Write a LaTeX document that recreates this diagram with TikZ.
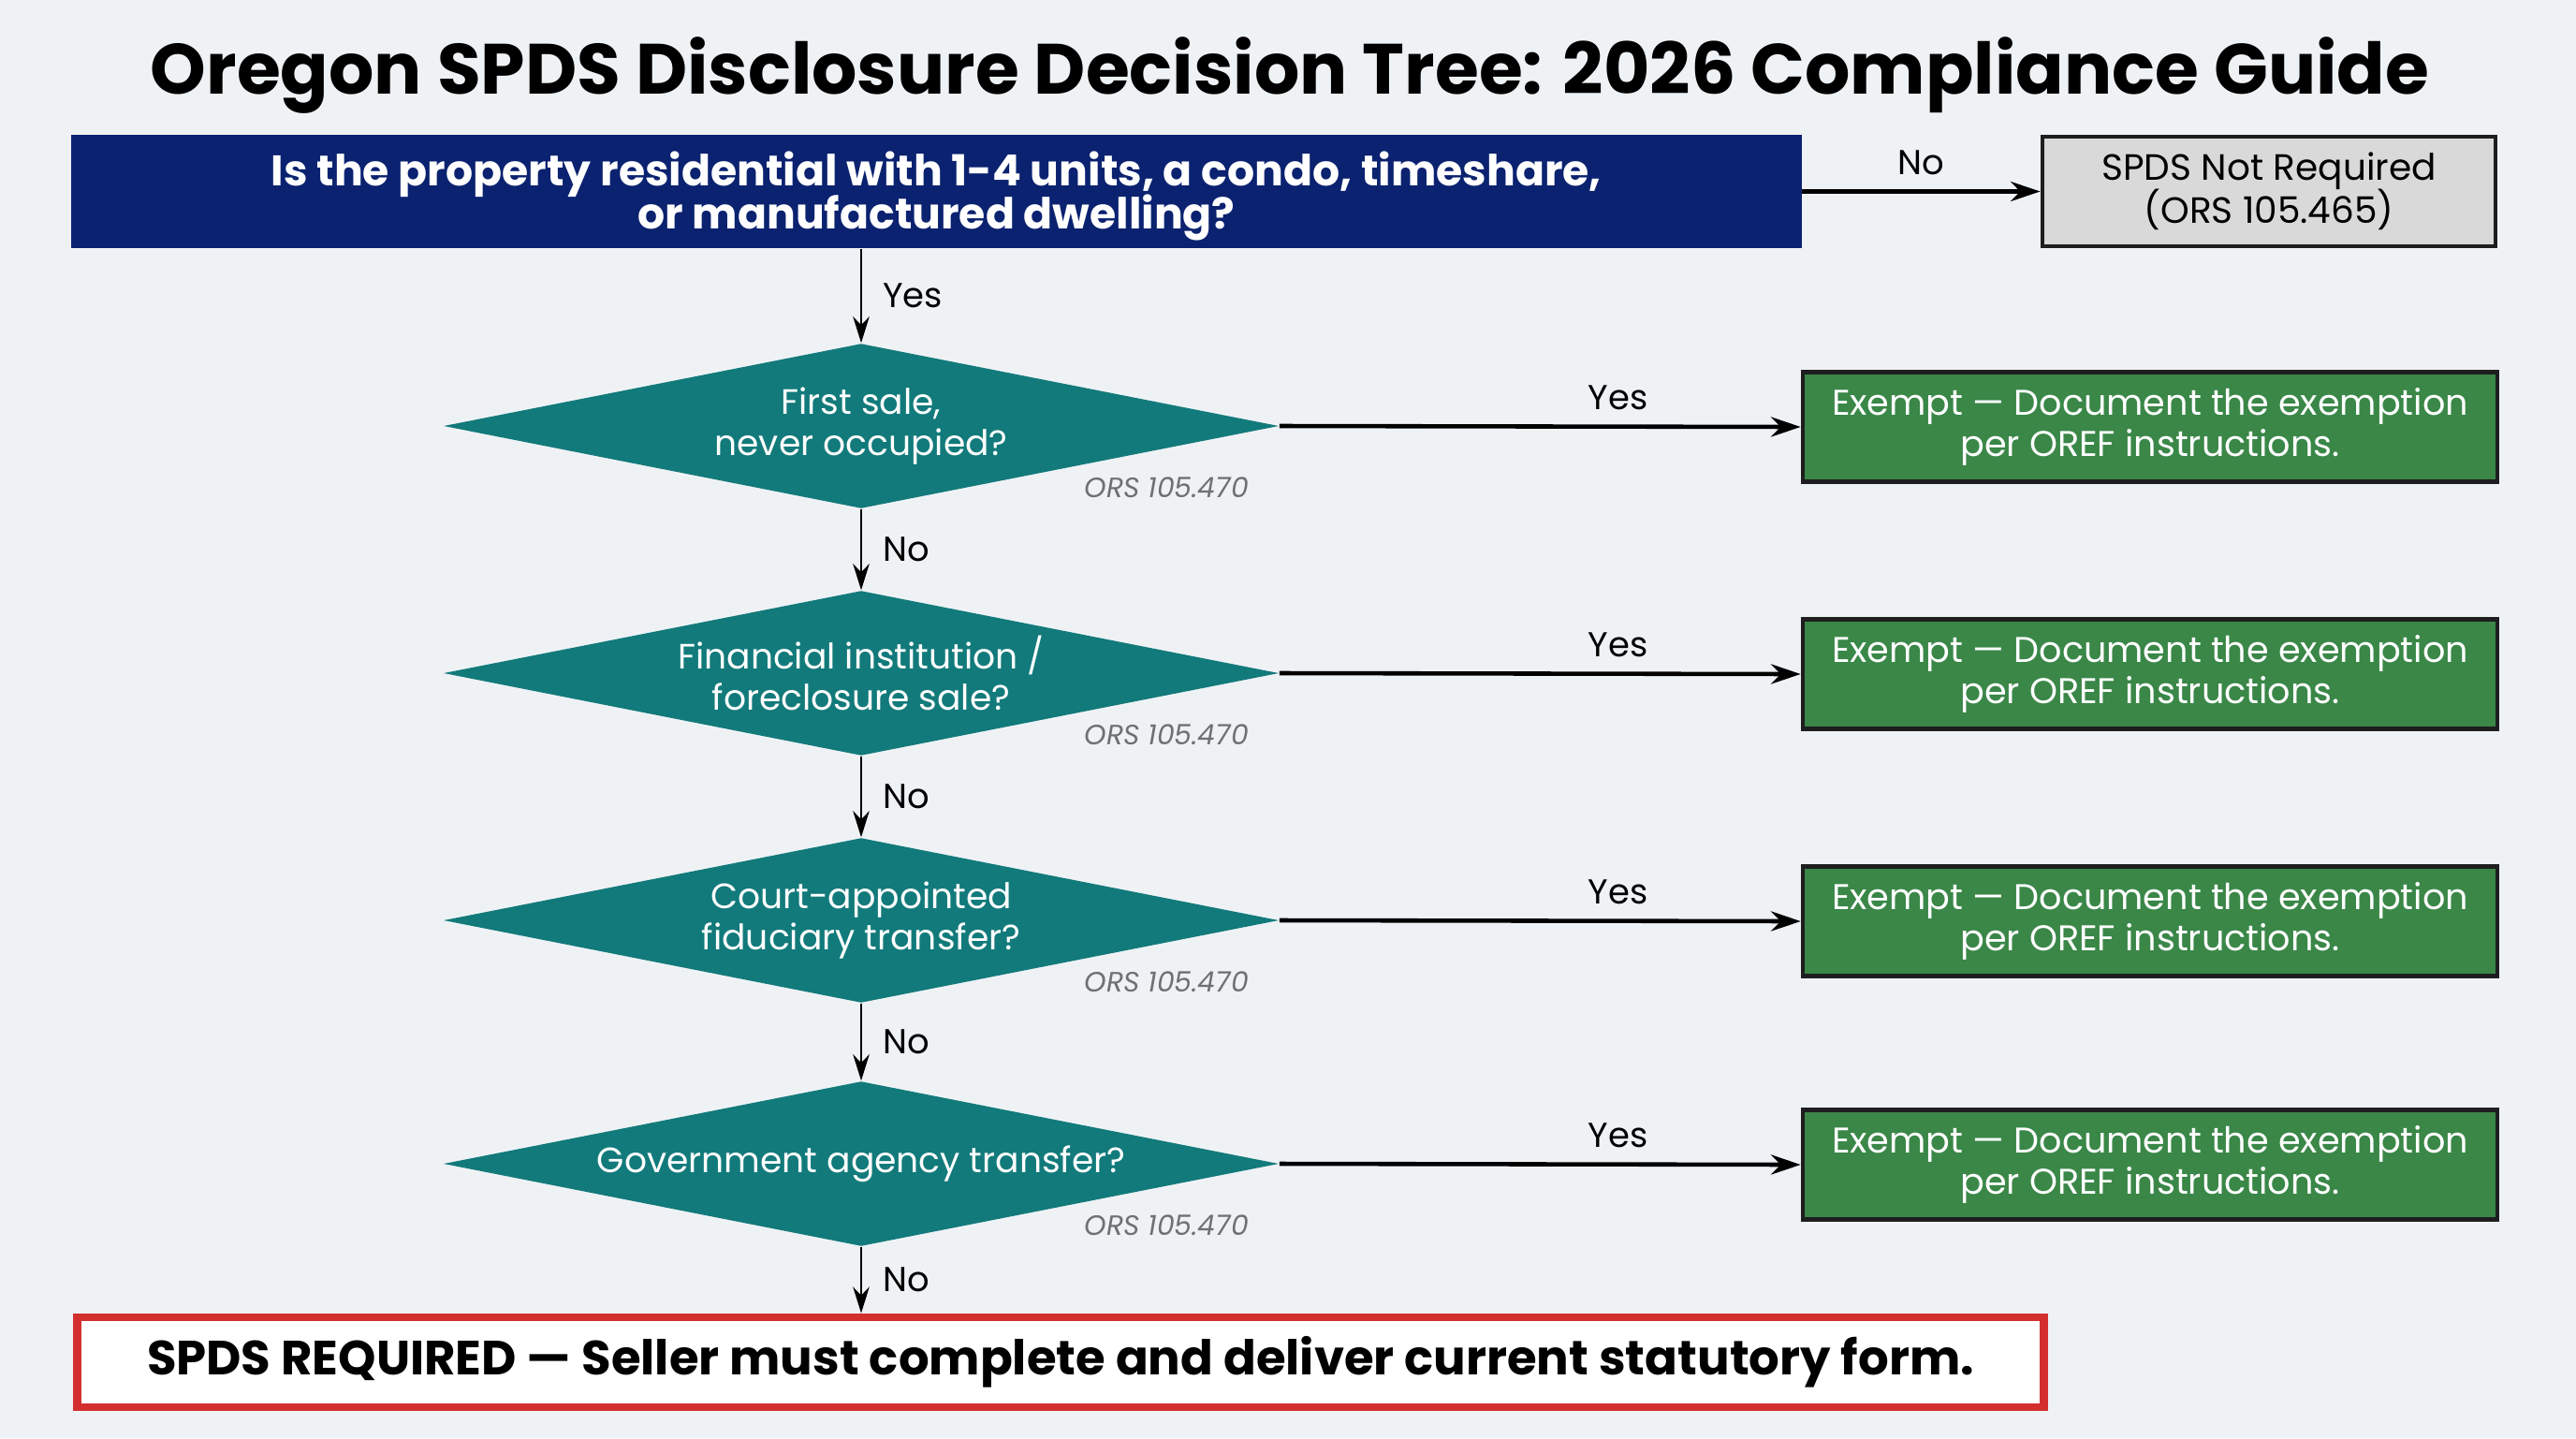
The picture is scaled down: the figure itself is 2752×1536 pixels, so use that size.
\documentclass[tikz,border=0pt]{standalone}
\usepackage{fontspec}
\setmainfont{Poppins}
\usetikzlibrary{shapes.geometric,arrows.meta}
\definecolor{bg}{HTML}{EFF2F5}
\definecolor{navy}{HTML}{0B2270}
\definecolor{dteal}{HTML}{127A7B}
\definecolor{dgreen}{HTML}{3A8748}
\definecolor{greybox}{HTML}{D9D9D9}
\definecolor{boxline}{HTML}{1E1E1E}
\definecolor{reqred}{HTML}{D32F2F}
\definecolor{orsgray}{HTML}{707070}
\begin{document}
\begin{tikzpicture}[x=0.01cm,y=-0.01cm,
  every node/.style={inner sep=0pt, execute at begin node={\lineskiplimit=-20pt}},
  lbl/.style={font=\fontsize{10.5}{12}\selectfont, text=black},
  ors/.style={font=\fontsize{8.5}{10}\selectfont\itshape, text=orsgray},
  dec/.style={diamond, aspect=5, fill=dteal, minimum width=8.92cm, minimum height=1.76cm,
    text=white, align=center, font=\fontsize{10.7}{12.5}\selectfont},
  exempt/.style={draw=boxline, line width=1.2pt, fill=dgreen, minimum width=7.42cm,
    minimum height=1.17cm, text=white, align=center, font=\fontsize{10.85}{12.5}\selectfont},
  varr/.style={-{Stealth[length=8pt,width=5pt]}, line width=0.7pt},
  harr/.style={-{Stealth[length=9pt,width=6pt]}, line width=1.3pt},
]
\fill[bg] (0,0) rectangle (2752,1536);
\useasboundingbox (0,0) rectangle (2752,1536);

\node[font=\fontsize{21.6}{25}\selectfont\bfseries] (title) at (1378,81)
  {Oregon SPDS Disclosure Decision Tree: 2026 Compliance Guide};

\node[fill=navy, minimum width=18.47cm, minimum height=1.21cm] (q0) at (1000.5,204.5) {};
\node[text=white, align=center, font=\fontsize{13}{13}\selectfont\bfseries] (q0text) at (1000.5,209.5)
  {Is the property residential with 1-4 units, a condo, timeshare,\\or manufactured dwelling?};

\node[draw=boxline, line width=1.3pt, fill=greybox, minimum width=4.84cm, minimum height=1.17cm,
  align=center, font=\fontsize{11.1}{13}\selectfont] (nr) at (2424,204.5)
  {SPDS Not Required\\(ORS 105.465)};

\node[dec] (d1) at (920,455) {First sale,\\never occupied?};
\node[dec] (d2) at (920,719) {Financial institution /\\foreclosure sale?};
\node[dec] (d3) at (920,983) {Court-appointed\\fiduciary transfer?};
\node[dec] (d4) at (920,1243) {Government agency transfer?};

\node[exempt] (g1) at (2297,456) {Exempt --- Document the exemption\\per OREF instructions.};
\node[exempt] (g2) at (2297,720) {Exempt --- Document the exemption\\per OREF instructions.};
\node[exempt] (g3) at (2297,984) {Exempt --- Document the exemption\\per OREF instructions.};
\node[exempt] (g4) at (2297,1244) {Exempt --- Document the exemption\\per OREF instructions.};

\node[ors, xshift=3.26cm, yshift=-0.66cm] (o1) at (d1) {ORS 105.470};
\node[ors, xshift=3.26cm, yshift=-0.66cm] (o2) at (d2) {ORS 105.470};
\node[ors, xshift=3.26cm, yshift=-0.66cm] (o3) at (d3) {ORS 105.470};
\node[ors, xshift=3.26cm, yshift=-0.66cm] (o4) at (d4) {ORS 105.470};

\node[draw=reqred, line width=2.5pt, fill=white, minimum width=21.0cm, minimum height=0.96cm,
  font=\fontsize{14.6}{16}\selectfont\bfseries] (req) at (1133,1455)
  {SPDS REQUIRED --- Seller must complete and deliver current statutory form.};

\draw[harr] (q0.east) -- (nr.west) node[midway, above=0.15cm, lbl] {No};
\draw[varr] (q0.south -| d1.north) -- (d1.north) node[midway, right=0.22cm, lbl] {Yes};
\draw[varr] (d1.south) -- (d2.north) node[midway, right=0.22cm, lbl] {No};
\draw[varr] (d2.south) -- (d3.north) node[midway, right=0.22cm, lbl] {No};
\draw[varr] (d3.south) -- (d4.north) node[midway, right=0.22cm, lbl] {No};
\draw[varr] (d4.south) -- (req.north -| d4.south) node[midway, right=0.22cm, lbl] {No};

\draw[harr] (d1.east) -- (g1.west) node[pos=0.65, above=0.16cm, lbl] {Yes};
\draw[harr] (d2.east) -- (g2.west) node[pos=0.65, above=0.16cm, lbl] {Yes};
\draw[harr] (d3.east) -- (g3.west) node[pos=0.65, above=0.16cm, lbl] {Yes};
\draw[harr] (d4.east) -- (g4.west) node[pos=0.65, above=0.16cm, lbl] {Yes};
\end{tikzpicture}
\end{document}
